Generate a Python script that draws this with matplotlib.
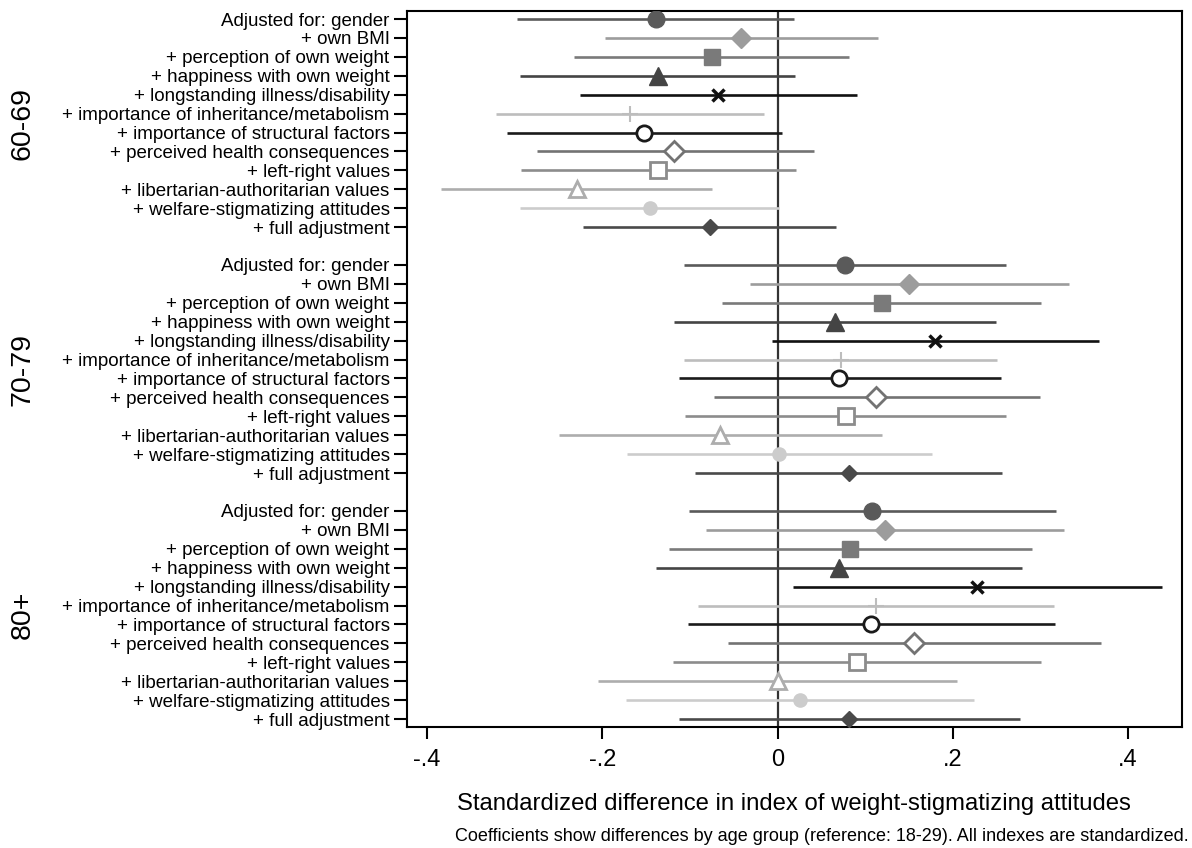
import numpy as np
import matplotlib
matplotlib.use("Agg")
import matplotlib.pyplot as plt
from matplotlib.transforms import blended_transform_factory

plt.rcParams['font.family'] = ['Liberation Sans', 'DejaVu Sans']

# model labels (same in every age group)
labels = ["Adjusted for: gender", "+ own BMI", "+ perception of own weight",
          "+ happiness with own weight", "+ longstanding illness/disability",
          "+ importance of inheritance/metabolism", "+ importance of structural factors",
          "+ perceived health consequences", "+ left-right values",
          "+ libertarian-authoritarian values", "+ welfare-stigmatizing attitudes",
          "+ full adjustment"]
groups = ["60-69", "70-79", "80+"]

# point estimates
est_60 = [-0.139, -0.042, -0.075, -0.137, -0.068, -0.169, -0.153, -0.118, -0.136, -0.229, -0.146, -0.077]
est_70 = [0.077, 0.150, 0.119, 0.065, 0.180, 0.072, 0.070, 0.112, 0.078, -0.066, 0.001, 0.081]
est_80 = [0.108, 0.123, 0.083, 0.070, 0.228, 0.112, 0.107, 0.156, 0.090, 0.000, 0.025, 0.081]
# lower CI
lo_60 = [-0.297, -0.197, -0.232, -0.294, -0.226, -0.321, -0.309, -0.275, -0.293, -0.384, -0.294, -0.222]
lo_70 = [-0.107, -0.031, -0.064, -0.118, -0.007, -0.107, -0.113, -0.073, -0.106, -0.249, -0.172, -0.094]
lo_80 = [-0.101, -0.082, -0.124, -0.139, 0.017, -0.091, -0.102, -0.057, -0.119, -0.205, -0.173, -0.113]
# upper CI
hi_60 = [0.019, 0.114, 0.082, 0.020, 0.090, -0.016, 0.005, 0.041, 0.021, -0.075, 0.001, 0.067]
hi_70 = [0.261, 0.332, 0.301, 0.249, 0.367, 0.250, 0.255, 0.299, 0.261, 0.119, 0.176, 0.256]
hi_80 = [0.318, 0.327, 0.290, 0.279, 0.439, 0.315, 0.317, 0.369, 0.300, 0.205, 0.224, 0.276]

est = [est_60, est_70, est_80]
lo = [lo_60, lo_70, lo_80]
hi = [hi_60, hi_70, hi_80]

# style per model row: marker, size, color, filled, edge width
styles = [
    ("o", 12, "#5a5a5a", True, 1),
    ("D", 10.5, "#9c9c9c", True, 1),
    ("s", 12, "#7a7a7a", True, 1),
    ("^", 13, "#444444", True, 1),
    ("x", 8, "#111111", True, 2.5),
    ("+", 11, "#bdbdbd", True, 1.5),
    ("o", 11, "#1a1a1a", False, 2),
    ("D", 10, "#737373", False, 2),
    ("s", 11, "#8c8c8c", False, 2),
    ("^", 12, "#adadad", False, 2),
    ("o", 9.5, "#cccccc", True, 1),
    ("D", 8.5, "#4a4a4a", True, 1),
]

fig = plt.figure(figsize=(11.92, 8.48), dpi=100)
ax = fig.add_axes([0.3414, 0.1427, 0.6499, 0.8447])

ypos_all = []
ylabs = []
for g in range(3):
    for i in range(12):
        y = g * 13 + i
        ypos_all.append(y)
        ylabs.append(labels[i])
        m, ms, c, filled, mew = styles[i]
        ax.hlines(y, lo[g][i], hi[g][i], color=c, lw=1.9, zorder=2)
        ax.plot(est[g][i], y, marker=m, ms=ms, color=c, mec=c, mew=mew,
                mfc=c if filled else "white", zorder=4, ls="none")

ax.axvline(0, color="#333333", lw=1.6, zorder=1)

ax.set_xlim(-0.423, 0.461)
ax.set_ylim(37.42, -0.44)
ax.set_yticks(ypos_all)
ax.set_yticklabels(ylabs, fontsize=13.5)
xt = [-0.4, -0.2, 0, 0.2, 0.4]
ax.set_xticks(xt)
ax.set_xticklabels(["-.4", "-.2", "0", ".2", ".4"], fontsize=17)
ax.tick_params(axis="y", length=9.5, width=1.5, pad=3)
ax.tick_params(axis="x", length=8.6, width=1.5, pad=7)
for s in ax.spines.values():
    s.set_linewidth(1.5)

ax.set_xlabel("Standardized difference in index of weight-stigmatizing attitudes",
              fontsize=17.2, labelpad=16)

tr = blended_transform_factory(fig.transFigure, ax.transData)
for g in range(3):
    ax.text(0.019, g * 13 + 5.5, groups[g], rotation=90, fontsize=20.5,
            ha="center", va="center", transform=tr)

fig.text(0.997, 0.003, "Coefficients show differences by age group (reference: 18-29). All indexes are standardized.",
         ha="right", va="bottom", fontsize=13)

fig.savefig("out.png", dpi=100)
